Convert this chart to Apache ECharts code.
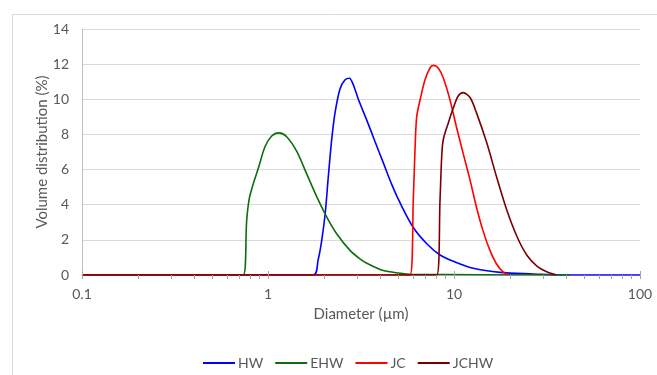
<!DOCTYPE html>
<html>
<head>
<meta charset="utf-8">
<script src="https://cdn.jsdelivr.net/npm/echarts@6/dist/echarts.min.js"></script>
<style>
  html, body { margin: 0; padding: 0; background: #fff; }
  #chart { width: 657px; height: 375px; }
</style>
</head>
<body>
<div id="chart"></div>
<script>
// diameters (µm) and volume distribution (%)
const hwX = [0.1, 1.75, 1.86, 1.94, 2.03, 2.11, 2.20, 2.29, 2.44, 2.59, 2.74, 2.87, 3.06, 3.40, 3.76, 4.17, 4.63, 5.13, 6.04, 7.14, 8.41, 9.93, 12.7, 17.7, 26.7, 37, 100];
const hwY = [0, 0, 0.86, 1.9, 3.5, 5.6, 7.7, 9.2, 10.6, 11.1, 11.2, 10.85, 10.0, 8.8, 7.6, 6.38, 5.14, 4.1, 2.7, 1.78, 1.14, 0.78, 0.38, 0.15, 0.06, 0, 0];

const ehwX = [0.1, 0.736, 0.768, 0.793, 0.834, 0.887, 0.963, 1.047, 1.146, 1.26, 1.43, 1.61, 1.83, 2.07, 2.34, 2.76, 3.12, 3.40, 4.17, 5.13, 5.8, 42];
const ehwY = [0, 0, 3.1, 4.35, 5.2, 6.07, 7.3, 7.91, 8.09, 7.87, 7.02, 5.78, 4.45, 3.3, 2.35, 1.4, 0.92, 0.67, 0.25, 0.1, 0.04, 0];

const jcX = [0.1, 5.8, 6.04, 6.17, 6.30, 6.57, 6.98, 7.43, 7.75, 8.23, 8.76, 9.52, 10.3, 11.2, 12.2, 13.2, 14.3, 15.6, 16.9, 18.4, 19.6];
const jcY = [0, 0, 4.26, 7.1, 9.0, 9.96, 11.1, 11.78, 11.93, 11.78, 11.21, 9.96, 8.44, 6.92, 5.40, 3.87, 2.54, 1.40, 0.64, 0.16, 0];

const jchwX = [0.1, 8.08, 8.41, 8.59, 8.76, 9.33, 9.93, 10.55, 11.2, 12.2, 13.2, 15.0, 16.9, 19.2, 21.8, 24.6, 27.9, 31.5, 35.6];
const jchwY = [0, 0, 4.26, 6.76, 7.71, 8.67, 9.53, 10.2, 10.38, 10.1, 9.24, 7.52, 5.62, 3.71, 2.19, 1.14, 0.51, 0.19, 0];

const seriesNames = ['HW', 'EHW', 'JC', 'JCHW'];
const seriesColors = ['#0000ff', '#0b6e0b', '#ff0000', '#7a0000'];

// log axis ticks: decades cross the axis, 2..9 only hang below
const majorTicks = [0.1, 1, 10, 100];
const minorTicks = [0.2, 0.3, 0.4, 0.5, 0.6, 0.7, 0.8, 0.9, 2, 3, 4, 5, 6, 7, 8, 9, 20, 30, 40, 50, 60, 70, 80, 90];

const zip = (xs, ys) => xs.map((x, i) => [x, ys[i]]);
const curves = [zip(hwX, hwY), zip(ehwX, ehwY), zip(jcX, jcY), zip(jchwX, jchwY)];

const textColor = '#595959';
const font = 'Lato, "Open Sans", sans-serif';

const chart = echarts.init(document.getElementById('chart'));

chart.setOption({
  animation: false,
  textStyle: { fontFamily: font },
  graphic: [
    {
      type: 'rect',
      left: 10, top: 12,
      shape: { width: 700, height: 420 },
      style: { fill: 'none', stroke: '#d9d9d9', lineWidth: 1 },
      silent: true,
    },
  ],
  grid: { left: 82, right: 17, top: 29, bottom: 100 },
  legend: {
    data: seriesNames,
    left: 198,
    top: 351,
    icon: 'rect',
    itemWidth: 32,
    itemHeight: 2,
    itemGap: 12,
    textStyle: { color: textColor, fontSize: 14, fontFamily: font, padding: [0, 0, 0, -2] },
  },
  xAxis: {
    type: 'log',
    logBase: 10,
    min: 0.1,
    max: 100,
    name: 'Diameter (µm)',
    nameLocation: 'middle',
    nameGap: 32,
    nameMoveOverlap: false,
    nameTextStyle: { color: textColor, fontSize: 15, fontFamily: font },
    axisLine: { show: true, lineStyle: { color: '#bfbfbf' } },
    axisTick: { show: false },
    axisLabel: {
      color: textColor, fontSize: 14, margin: 12, fontFamily: font,
      formatter: (v) => String(+Number(v).toPrecision(3)),
    },
    splitLine: { show: false },
  },
  yAxis: {
    type: 'value',
    min: 0,
    max: 14,
    interval: 2,
    name: 'Volume distribution (%)',
    nameLocation: 'middle',
    nameGap: 32,
    nameMoveOverlap: false,
    nameTextStyle: { color: textColor, fontSize: 15, fontFamily: font },
    axisLine: { show: true, lineStyle: { color: '#bfbfbf' } },
    axisTick: { show: false },
    axisLabel: { color: textColor, fontSize: 14, margin: 13, fontFamily: font },
    splitLine: { lineStyle: { color: '#d9d9d9', width: 1 } },
  },
  series: [
    {
      type: 'custom',
      name: 'ticks',
      silent: true,
      clip: false,
      z: 10,
      data: majorTicks.map((v) => [v, 0, 1]).concat(minorTicks.map((v) => [v, 0, 0])),
      renderItem: function (params, api) {
        const p = api.coord([api.value(0), 0]);
        const up = api.value(2) ? 4 : 0;
        return {
          type: 'line',
          shape: { x1: Math.round(p[0]) + 0.5, y1: p[1] - up, x2: Math.round(p[0]) + 0.5, y2: p[1] + 4 },
          style: { stroke: '#a6a6a6', lineWidth: 1 },
        };
      },
    },
  ].concat(curves.map((data, i) => ({
    type: 'line',
    name: seriesNames[i],
    data: data,
    showSymbol: false,
    symbol: 'none',
    smooth: 0.3,
    z: 2 + i,
    color: seriesColors[i],
    lineStyle: { width: 1.6, color: seriesColors[i] },
  }))),
});
</script>
</body>
</html>
